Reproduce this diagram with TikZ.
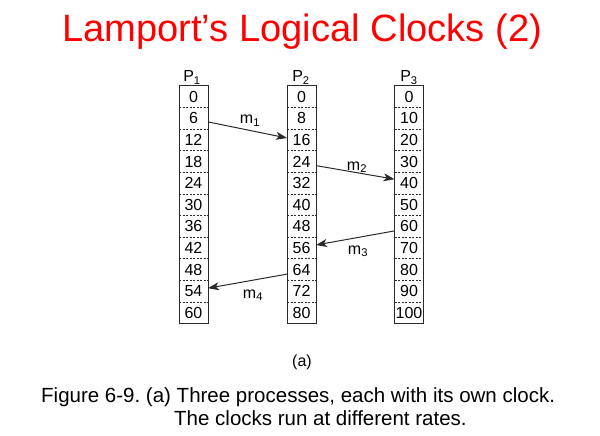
\documentclass[tikz,border=0pt]{standalone}
\usepackage{fontspec}
\setmainfont{Liberation Sans}
\usetikzlibrary{arrows.meta,calc}
\definecolor{linegray}{HTML}{2A2A2A}
\frenchspacing
\tikzset{
  cell/.style={minimum width=29pt,minimum height=21.6pt,inner sep=0pt,outer sep=0pt,font=\fontsize{16}{18}\selectfont,text=black},
  plabel/.style={font=\fontsize{16}{18}\selectfont,anchor=base},
  mlabel/.style={font=\fontsize{16}{18}\selectfont,anchor=base},
  msg/.style={draw=linegray,line width=1pt,-{Stealth[length=11pt,width=8pt,inset=3pt]}},
  colbox/.style={draw=linegray,line width=1pt},
  sep/.style={draw=linegray,line width=0.7pt,dash pattern=on 2pt off 1.5pt}
}
\begin{document}
\begin{tikzpicture}[x=1pt,y=-1pt]
\useasboundingbox (0,0) rectangle (600,436);
% title
\node[anchor=base west,inner sep=0pt,text=red,font=\fontsize{38.1}{40}\selectfont] (title) at (62,42) {Lamport’s Logical Clocks (2)};
% columns
\foreach \v [count=\i from 0] in {0,6,12,18,24,30,36,42,48,54,60}
  \node[cell] (a\i) at (193.5,{96.8+21.6*\i}) {\v};
\foreach \v [count=\i from 0] in {0,8,16,24,32,40,48,56,64,72,80}
  \node[cell] (b\i) at (301.5,{96.8+21.6*\i}) {\v};
\foreach \v [count=\i from 0] in {0,10,20,30,40,50,60,70,80,90,100}
  \node[cell] (c\i) at (409,{96.8+21.6*\i}) {\v};
\foreach \c in {a,b,c}{
  \draw[colbox] (\c0.north west) rectangle (\c10.south east);
  \foreach \i in {0,...,9}
    \draw[sep] (\c\i.south west) -- (\c\i.south east);
}
% process labels
\node[plabel] (p1) at (192,81.5) {P\textsubscript{1}};
\node[plabel] (p2) at (301,81.5) {P\textsubscript{2}};
\node[plabel] (p3) at (409,81.5) {P\textsubscript{3}};
% messages
\draw[msg] ($(a1.east)+(0,3.5)$) -- ($(b2.west)+(0,-2)$);
\draw[msg] ($(b3.east)+(0,4)$) -- ($(c4.west)+(0,-4)$);
\draw[msg] ($(c6.west)+(0,4.5)$) -- ($(b7.east)+(0,-3)$);
\draw[msg] ($(b8.west)+(0,4.5)$) -- ($(a9.east)+(0,-3)$);
\node[mlabel] (m1) at (250,124) {m\textsubscript{1}};
\node[mlabel] (m2) at (357,170) {m\textsubscript{2}};
\node[mlabel] (m3) at (358,254) {m\textsubscript{3}};
\node[mlabel] (m4) at (253,298) {m\textsubscript{4}};
% sub caption
\node[anchor=base,font=\fontsize{16}{18}\selectfont] (sub) at (302,366) {(a)};
% caption
\node[anchor=base west,inner sep=0pt,font=\fontsize{20.5}{24}\selectfont] (cap1) at (41,402) {Figure 6-9. (a) Three processes, each with its own clock.};
\node[anchor=base west,inner sep=0pt,font=\fontsize{20.5}{24}\selectfont] (cap2) at (174,425) {The clocks run at different rates.};
\end{tikzpicture}
\end{document}
